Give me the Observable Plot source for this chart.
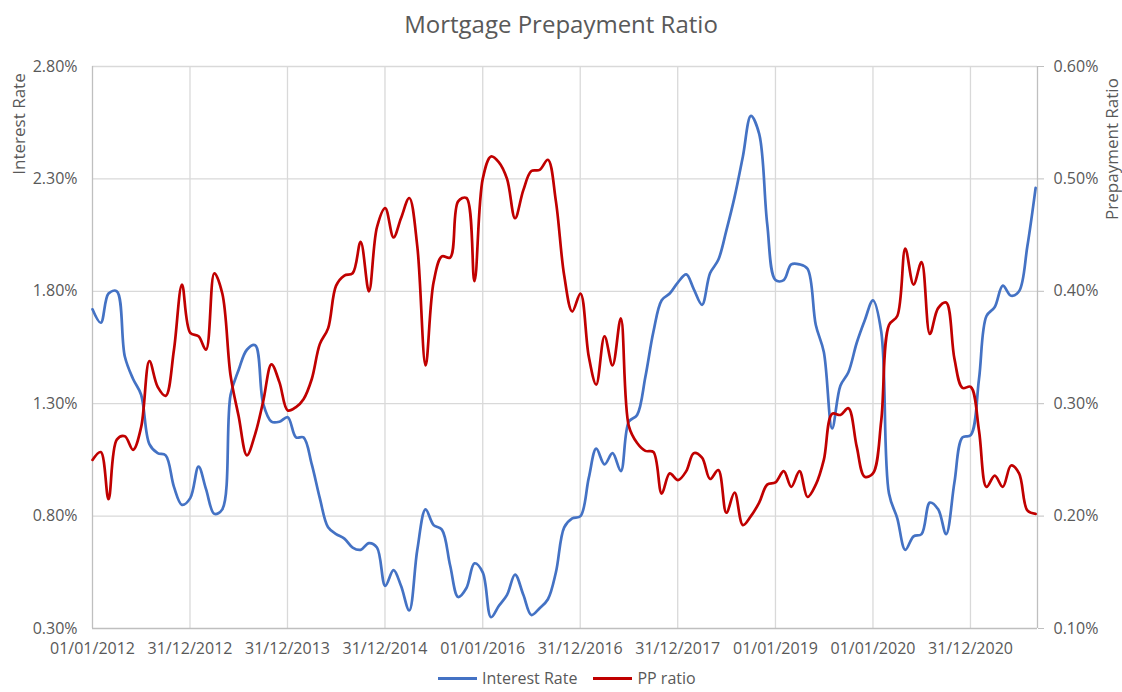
<!DOCTYPE html>
<html><head><meta charset="utf-8">
<script src="https://cdn.jsdelivr.net/npm/d3@7"></script>
<script src="https://cdn.jsdelivr.net/npm/@observablehq/plot@0.6"></script>
<style>
body{margin:0;background:#fff;}
#wrap{position:relative;width:1122px;height:692px;overflow:hidden;font-family:"Open Sans",sans-serif;color:#595959;background:#fff;}
#wrap svg{position:absolute;left:0;top:0;}
.title{position:absolute;left:0;width:1122px;top:10px;line-height:28px;text-align:center;font-size:24px;}
.ylab{position:absolute;font-size:17px;line-height:17px;white-space:nowrap;transform:translate(-50%,-50%) rotate(-90deg);}
.legend{position:absolute;top:669px;left:438px;font-size:16px;line-height:18px;display:flex;align-items:center;white-space:nowrap;}
.legend .sw{display:inline-block;width:39px;height:3px;margin-right:5px;}
</style></head>
<body><div id="wrap"></div>
<script>
// Interest rate (%), monthly from Jan 2012
const interestRate = [
 1.72,1.66,1.79,1.80,1.51,1.41,1.34,1.12,1.08,1.07,0.93,0.85,
 0.88,1.02,0.92,0.81,0.83,1.34,1.45,1.54,1.56,1.30,1.22,1.22,
 1.24,1.15,1.15,1.03,0.88,0.75,0.72,0.70,0.66,0.65,0.68,0.66,
 0.49,0.56,0.49,0.38,0.65,0.83,0.76,0.74,0.58,0.44,0.48,0.59,
 0.55,0.35,0.40,0.45,0.54,0.45,0.36,0.39,0.43,0.55,0.75,0.79,
 0.80,0.97,1.10,1.03,1.08,1.00,1.22,1.25,1.42,1.62,1.76,1.79,
 1.84,1.875,1.81,1.74,1.88,1.94,2.07,2.22,2.40,2.58,2.50,2.10,
 1.85,1.85,1.92,1.92,1.90,1.65,1.53,1.19,1.38,1.44,1.57,1.67,
 1.76,1.62,0.90,0.79,0.65,0.71,0.72,0.86,0.83,0.72,0.95,1.15,
 1.16,1.41,1.69,1.73,1.825,1.78,1.80,2.00,2.26
];
// Prepayment ratio (%), monthly from Jan 2012
const ppRatio = [
 0.250,0.257,0.215,0.268,0.271,0.259,0.279,0.338,0.315,0.307,0.348,0.406,
 0.363,0.360,0.348,0.416,0.398,0.325,0.289,0.254,0.273,0.302,0.335,0.319,
 0.294,0.297,0.304,0.322,0.353,0.367,0.405,0.414,0.416,0.444,0.400,0.457,
 0.474,0.448,0.465,0.483,0.440,0.334,0.408,0.431,0.430,0.480,0.483,0.409,
 0.500,0.520,0.515,0.500,0.465,0.490,0.507,0.508,0.517,0.480,0.414,0.382,
 0.398,0.342,0.317,0.360,0.334,0.376,0.280,0.265,0.258,0.257,0.220,0.238,
 0.232,0.240,0.256,0.252,0.233,0.241,0.203,0.221,0.192,0.200,0.212,0.228,
 0.230,0.240,0.226,0.240,0.217,0.228,0.250,0.291,0.290,0.296,0.262,0.235,
 0.238,0.285,0.370,0.378,0.438,0.406,0.426,0.362,0.385,0.390,0.340,0.314,
 0.315,0.276,0.226,0.236,0.226,0.245,0.238,0.205,0.202
];
const xTickLabels = ["01/01/2012","31/12/2012","31/12/2013","31/12/2014","01/01/2016",
  "31/12/2016","31/12/2017","01/01/2019","01/01/2020","31/12/2020"];
const leftTicks = [0.30,0.80,1.30,1.80,2.30,2.80];
const rightTicks = [0.10,0.20,0.30,0.40,0.50,0.60];
const seriesNames = ["Interest Rate","PP ratio"];
const seriesColors = ["#4472c4","#c00000"];

const parseDMY = d3.utcParse("%d/%m/%Y");
const fmtDMY = d3.utcFormat("%d/%m/%Y");
const xTicks = xTickLabels.map(parseDMY);
const months = d3.utcMonth.range(new Date(Date.UTC(2012,0,1)), new Date(Date.UTC(2021,9,1)));
const data = interestRate.map((v,i)=>({date:months[i], ir:v, pp:ppRatio[i]}));
// map right-axis values onto left-axis scale
const r0 = rightTicks[0], r1 = rightTicks[rightTicks.length-1];
const l0 = leftTicks[0], l1 = leftTicks[leftTicks.length-1];
const toLeft = r => l0 + (r - r0) * (l1 - l0) / (r1 - r0);
const toRight = l => r0 + (l - l0) * (r1 - r0) / (l1 - l0);
const xStart = new Date(Date.UTC(2012,0,1)), xEnd = new Date(Date.UTC(2021,8,8));

const chart = Plot.plot({
  width:1122, height:692,
  marginLeft:92, marginRight:85, marginTop:66, marginBottom:64,
  style:{fontFamily:"'Open Sans', sans-serif", fontSize:"16px", color:"#595959", background:"transparent"},
  x:{type:"utc", domain:[xStart, xEnd]},
  y:{domain:[l0, l1]},
  marks:[
    Plot.ruleY(leftTicks.slice(1), {stroke:"#d9d9d9", strokeWidth:1.3}),
    Plot.ruleX(xTicks.slice(1), {stroke:"#d9d9d9", strokeWidth:1.3}),
    Plot.ruleX([xStart, xEnd], {stroke:"#bfbfbf", strokeWidth:1.3}),
    Plot.ruleY([l0], {stroke:"#bfbfbf", strokeWidth:1.3}),
    Plot.line(data, {x:"date", y:"ir", stroke:seriesColors[0], strokeWidth:2.7, curve:"catmull-rom"}),
    Plot.line(data, {x:"date", y:d=>toLeft(d.pp), stroke:seriesColors[1], strokeWidth:2.7, curve:"catmull-rom"}),
    Plot.axisY(leftTicks, {anchor:"left", tickSize:0, tickPadding:15, tickFormat:d=>d.toFixed(2)+"%", fill:"#595959", label:null}),
    Plot.axisY(leftTicks, {anchor:"right", tickSize:6, tickPadding:10, stroke:"#bfbfbf", fill:"#595959", tickFormat:d=>toRight(d).toFixed(2)+"%", label:null}),
    Plot.axisX(xTicks, {anchor:"bottom", tickSize:0, tickPadding:14, fill:"#595959", tickFormat:fmtDMY, label:null})
  ]
});
const wrap = document.getElementById("wrap");
wrap.appendChild(chart);
const add = (cls, txt, css) => { const d = document.createElement("div"); d.className = cls; d.textContent = txt; Object.assign(d.style, css||{}); wrap.appendChild(d); return d; };
add("title", "Mortgage Prepayment Ratio");
add("ylab", "Interest Rate", {left:"18px", top:"124px"});
add("ylab", "Prepayment Ratio", {left:"1111px", top:"149px"});
const lg = document.createElement("div"); lg.className = "legend";
seriesNames.forEach((n,i)=>{
  const sw = document.createElement("span"); sw.className="sw"; sw.style.background=seriesColors[i];
  const t = document.createElement("span"); t.textContent = n; t.style.marginRight = i===0 ? "16px" : "0";
  lg.appendChild(sw); lg.appendChild(t);
});
wrap.appendChild(lg);
</script>
</body></html>
